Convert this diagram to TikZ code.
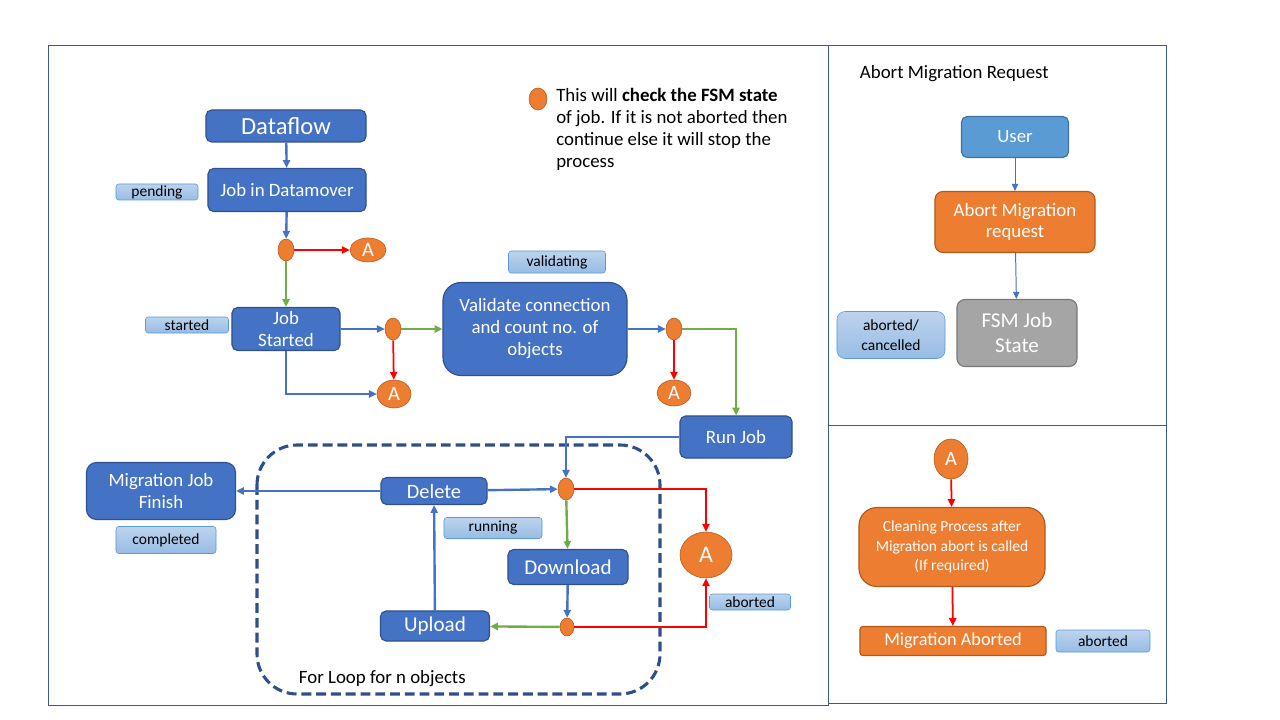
\documentclass[tikz,border=0pt]{standalone}
\usepackage{fontspec}
\setmainfont{Carlito}
\usetikzlibrary{arrows.meta,shapes.geometric}

\definecolor{boxblue}{HTML}{4472C4}
\definecolor{boxline}{HTML}{2F528F}
\definecolor{userblue}{HTML}{5B9BD5}
\definecolor{userline}{HTML}{41719C}
\definecolor{absorange}{HTML}{ED7D31}
\definecolor{orangeline}{HTML}{AE5A21}
\definecolor{fsmgray}{HTML}{A5A5A5}
\definecolor{fsmline}{HTML}{787878}
\definecolor{tagtop}{HTML}{BDD3EE}
\definecolor{tagbot}{HTML}{98BCE4}
\definecolor{tagline}{HTML}{5B9BD5}
\definecolor{arrblue}{HTML}{4472C4}
\definecolor{arrgreen}{HTML}{70AD47}
\definecolor{arrred}{HTML}{FF0000}
\definecolor{framecol}{HTML}{3B5A91}
\definecolor{loopcol}{HTML}{2F4F8A}

\tikzset{
  box/.style={draw=boxline, fill=boxblue, text=white, rounded corners=4pt,
    line width=0.8pt, align=center, inner sep=0pt,
    font=\fontsize{13.4}{15.6}\selectfont},
  tag/.style={draw=tagline, top color=tagtop, bottom color=tagbot,
    rounded corners=2pt, inner sep=0pt, align=center,
    font=\fontsize{11}{12.6}\selectfont},
  check/.style={ellipse, draw=orangeline, fill=absorange, inner sep=0pt,
    minimum width=0.4cm, minimum height=0.55cm},
  anode/.style={check, text=white, font=\fontsize{14.5}{16}\selectfont},
  bluearr/.style={draw=arrblue, line width=1.7pt, -{Triangle[length=5.5pt,width=5pt]}},
  greenarr/.style={draw=arrgreen, line width=1.7pt, -{Triangle[length=5.5pt,width=5pt]}},
  redarr/.style={draw=arrred, line width=1.25pt, -{Triangle[length=5.5pt,width=5pt]}},
  thinarr/.style={draw=arrblue, line width=0.7pt, -{Triangle[length=5pt,width=4.5pt]}},
  frame/.style={draw=framecol, line width=0.7pt}
}

\begin{document}
\begin{tikzpicture}[x=0.025cm, y=-0.025cm]
\useasboundingbox (0,0) rectangle (1280,720);

% panels
\draw [frame] (48,45) rectangle (828,705);
\draw [frame] (828,45) rectangle (1166,425);
\draw [frame] (828,425) rectangle (1166,703);

% for loop
\draw [loopcol, line width=2.2pt, dash pattern=on 7pt off 3.5pt, rounded corners=1cm] (257,445) rectangle (660,694);
\node [anchor=west, font=\fontsize{13.4}{15.6}\selectfont] (looplabel) at (294,679) {For Loop for n objects};

% legend
\node [check, minimum width=0.45cm, minimum height=0.55cm] (legdot) at (538,99) {};
\node [anchor=north west, align=left, inner sep=0pt, font=\fontsize{13.4}{15.6}\selectfont] (legend) at (556,88)
  {This will \textbf{check the FSM state}\\of job. If it is not aborted then\\continue else it will stop the\\process};

% main flow
\node [box, font=\fontsize{17.5}{20}\selectfont, minimum width=4cm, minimum height=0.8cm] (df) at (286,126) {Dataflow};
\node [box, minimum width=3.95cm, minimum height=1.075cm] (jdm) at (287,190) {Job in Datamover};
\node [check] (c1) at (286,250) {};
\node [anode, minimum width=0.9cm, minimum height=0.6cm] (a1) at (368,250) {A};
\node [box, minimum width=2.7cm, minimum height=1.075cm] (js) at (286,329) {Job\\Started};
\node [check] (c2) at (393,329) {};
\node [anode, minimum width=0.85cm, minimum height=0.7cm] (a2) at (394,394) {A};
\node [box, rounded corners=0.45cm, minimum width=4.6cm, minimum height=2.325cm] (val) at (535,329) {Validate connection\\and count no. of\\objects};
\node [check] (c3) at (674,329) {};
\node [anode, minimum width=0.85cm, minimum height=0.65cm] (a3) at (674,393) {A};
\node [box, minimum width=2.8cm, minimum height=1.05cm] (run) at (736,437) {Run Job};
\node [box, rounded corners=0.25cm, minimum width=3.725cm, minimum height=1.425cm] (mjf) at (161,491) {Migration Job\\Finish};
\node [box, font=\fontsize{14.5}{16}\selectfont, minimum width=2.65cm, minimum height=0.675cm] (del) at (434,491) {Delete};
\node [check] (c4) at (566,489) {};
\node [box, font=\fontsize{15}{16}\selectfont, minimum width=3cm, minimum height=0.875cm] (dl) at (568,567) {Download};
\node [check, minimum width=0.35cm, minimum height=0.45cm] (c5) at (567,627) {};
\node [box, font=\fontsize{15}{16}\selectfont, minimum width=2.725cm, minimum height=0.75cm] (up) at (435,626) {Upload};
\node [anode, font=\fontsize{17}{18}\selectfont, minimum width=1.3cm, minimum height=1.15cm] (abig) at (706,555) {A};

% state tags
\node [tag, minimum width=2.05cm, minimum height=0.4cm] (tpending) at (157,192) {pending};
\node [tag, minimum width=2.075cm, minimum height=0.4cm] (tstarted) at (187,325) {started};
\node [tag, minimum width=2.425cm, minimum height=0.55cm] (tvalid) at (557,262) {validating};
\node [tag, minimum width=2.5cm, minimum height=0.675cm] (tdone) at (166,540) {completed};
\node [tag, minimum width=2.45cm, minimum height=0.525cm] (trun) at (493,528) {running};
\node [tag, minimum width=2.025cm, minimum height=0.4cm] (tabort) at (750,602) {aborted};

% connectors
\draw [bluearr] (df) -- (jdm);
\draw [bluearr] (jdm) -- (c1);
\draw [redarr] (c1) -- (a1);
\draw [greenarr] (c1) -- (js);
\draw [bluearr] (js) -- (c2);
\draw [greenarr] (c2) -- (val);
\draw [redarr] (c2) -- (a2);
\draw [bluearr] (js.south) |- (a2);
\draw [bluearr] (val) -- (c3);
\draw [redarr] (c3) -- (a3);
\draw [greenarr] (c3) -| (run);
\draw [bluearr] (run.west) -| (c4.north);
\draw [bluearr] (del) -- (c4);
\draw [greenarr] (c4) -- (dl);
\draw [redarr] (c4) -| (abig);
\draw [bluearr] (dl) -- (c5);
\draw [greenarr] (c5) -- (up);
\draw [redarr] (c5) -| (abig);
\draw [bluearr] (up) -- (del);
\draw [bluearr] (del) -- (mjf);

% abort request panel
\node [anchor=west, font=\fontsize{13.4}{15.6}\selectfont] (abtitle) at (855,74) {Abort Migration Request};
\node [box, draw=userline, fill=userblue, minimum width=2.675cm, minimum height=1.025cm] (user) at (1015,137) {User};
\node [box, draw=orangeline, fill=absorange, rounded corners=0.2cm, minimum width=4cm, minimum height=1.525cm] (abreq) at (1015,222) {Abort Migration\\request};
\node [box, draw=fsmline, fill=fsmgray, font=\fontsize{15}{18}\selectfont, rounded corners=0.2cm, minimum width=3cm, minimum height=1.675cm] (fsm) at (1017,333) {FSM Job\\State};
\node [tag, rounded corners=0.2cm, font=\fontsize{11}{14}\selectfont, minimum width=2.7cm, minimum height=1.175cm] (tcancel) at (891,335) {aborted/\\cancelled};
\draw [thinarr] (user) -- (abreq);
\draw [thinarr] (abreq) -- (fsm);

% cleanup panel
\node [anode, minimum width=0.85cm, minimum height=1cm] (astart) at (951,459) {A};
\node [box, draw=orangeline, fill=absorange, rounded corners=0.45cm, font=\fontsize{11}{14}\selectfont, minimum width=4.65cm, minimum height=1.975cm] (clean) at (952,547) {Cleaning Process after\\Migration abort is called\\(If required)};
\node [box, draw=orangeline, fill=absorange, rounded corners=2pt, font=\fontsize{13}{15}\selectfont, minimum width=4.65cm, minimum height=0.725cm] (mab) at (953,641) {Migration Aborted};
\node [tag, minimum width=2.35cm, minimum height=0.55cm] (tabort2) at (1103,641) {aborted};
\draw [redarr] (astart) -- (clean);
\draw [redarr] (clean) -- (mab);
\end{tikzpicture}
\end{document}
